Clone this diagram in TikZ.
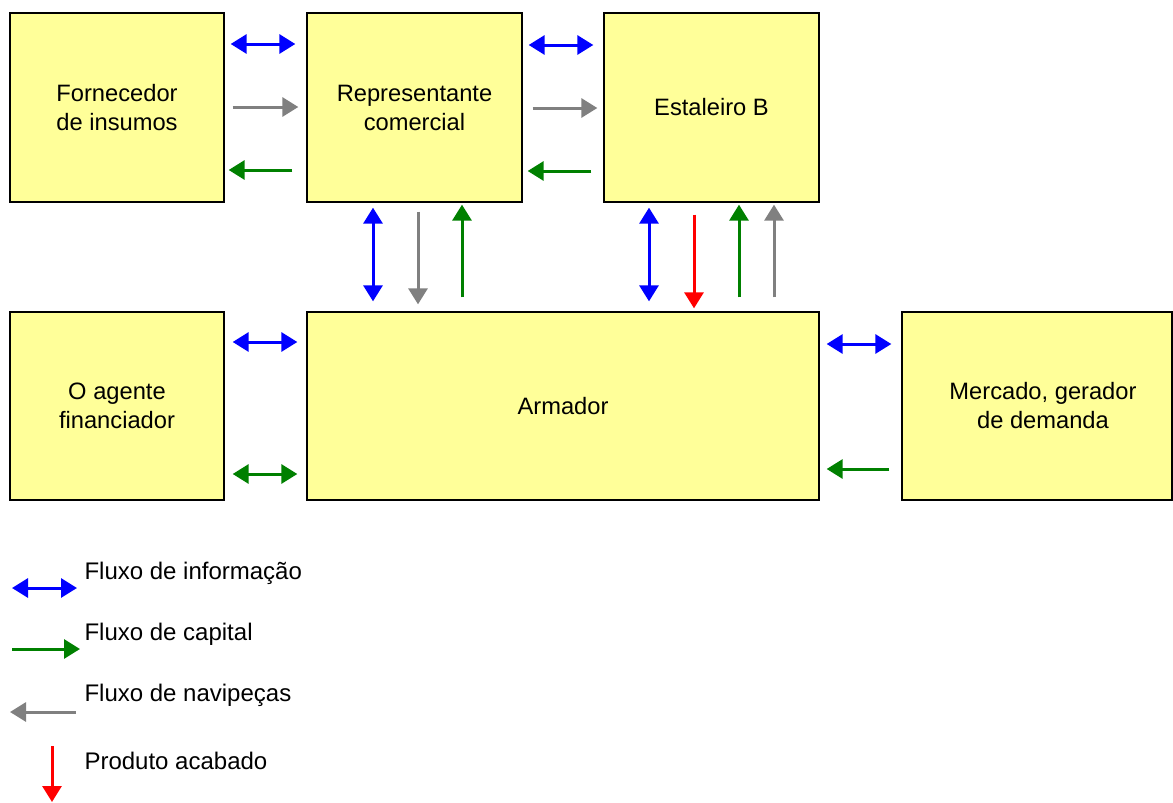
\documentclass[tikz,border=0pt]{standalone}
\usepackage{fontspec}
\setmainfont{Liberation Sans}
\usetikzlibrary{arrows.meta, positioning}
\definecolor{boxyellow}{RGB}{255,255,153}
\definecolor{capgreen}{RGB}{0,128,0}
\definecolor{navgray}{RGB}{128,128,128}

\begin{document}
\begin{tikzpicture}[
        x=1pt, y=-1pt,
        actor/.style={draw, line width=1.3pt, fill=boxyellow, align=center,
            font=\fontsize{23.7}{29}\selectfont, inner sep=0pt},
        flow/.style={line width=3pt, -{Triangle[length=16pt,width=19pt]}},
        info/.style={flow, blue, {Triangle[length=16pt,width=19pt]}-{Triangle[length=16pt,width=19pt]}},
        capital/.style={flow, capgreen},
        capboth/.style={info, capgreen},
        pieces/.style={flow, navgray},
        product/.style={flow, red},
        legtext/.style={anchor=west, font=\fontsize{24}{29}\selectfont}
    ]
        \useasboundingbox (0,0) rectangle (1173,803);

        % Boxes, top row
        \node[actor, minimum width=214pt, minimum height=189pt] (forn) at (117,107.5) {Fornecedor\\de insumos};
        \node[actor, minimum width=215pt, minimum height=189pt] (rep) at (414.5,107.5) {Representante\\comercial};
        \node[actor, minimum width=215pt, minimum height=189pt] (est) at (711.5,107.5) {Estaleiro B};

        % Boxes, bottom row
        \node[actor, minimum width=214pt, minimum height=188pt] (fin) at (117,406) {O agente\\financiador};
        \node[actor, minimum width=512pt, minimum height=188pt] (arm) at (563,406) {Armador};
        \node[actor, minimum width=270pt, minimum height=188pt] (merc) at (1037,406) {\hspace*{12pt}Mercado, gerador\\\hspace*{12pt}de demanda};

        % Fornecedor <-> Representante
        \draw[info, shorten <=6pt, shorten >=11pt] (forn.east |- 0,44) -- (rep.west |- 0,44);
        \draw[pieces, shorten <=8pt, shorten >=8pt] (forn.east |- 0,107) -- (rep.west |- 0,107);
        \draw[capital, shorten <=14pt, shorten >=4pt] (rep.west |- 0,170) -- (forn.east |- 0,170);

        % Representante <-> Estaleiro
        \draw[info, shorten <=6pt, shorten >=10pt] (rep.east |- 0,45) -- (est.west |- 0,45);
        \draw[pieces, shorten <=10pt, shorten >=6pt] (rep.east |- 0,108) -- (est.west |- 0,108);
        \draw[capital, shorten <=12pt, shorten >=5pt] (est.west |- 0,171) -- (rep.east |- 0,171);

        % Representante <-> Armador
        \draw[info, shorten <=5pt, shorten >=10pt] (rep.south -| 373,0) -- (arm.north -| 373,0);
        \draw[pieces, shorten <=9pt, shorten >=7pt] (rep.south -| 418,0) -- (arm.north -| 418,0);
        \draw[capital, shorten <=14pt, shorten >=2pt] (arm.north -| 462,0) -- (rep.south -| 462,0);

        % Estaleiro <-> Armador
        \draw[info, shorten <=5pt, shorten >=10pt] (est.south -| 649,0) -- (arm.north -| 649,0);
        \draw[product, shorten <=12pt, shorten >=3pt] (est.south -| 694,0) -- (arm.north -| 694,0);
        \draw[capital, shorten <=14pt, shorten >=2pt] (arm.north -| 739,0) -- (est.south -| 739,0);
        \draw[pieces, shorten <=14pt, shorten >=2pt] (arm.north -| 774,0) -- (est.south -| 774,0);

        % Agente financiador <-> Armador
        \draw[info, shorten <=8pt, shorten >=9pt] (fin.east |- 0,342) -- (arm.west |- 0,342);
        \draw[capboth, shorten <=8pt, shorten >=9pt] (fin.east |- 0,474) -- (arm.west |- 0,474);

        % Armador <-> Mercado
        \draw[info, shorten <=7pt, shorten >=10pt] (arm.east |- 0,344) -- (merc.west |- 0,344);
        \draw[capital, shorten <=12pt, shorten >=7pt] (merc.west |- 0,469) -- (arm.east |- 0,469);

        % Legend
        \node[legtext] (lginfo) at (81,573) {Fluxo de informação};
        \node[legtext] (lgcap) at (81,634) {Fluxo de capital};
        \node[legtext] (lgnav) at (81,695) {Fluxo de navipeças};
        \node[legtext] (lgprod) at (81,761) {Produto acabado};
        \coordinate (li1) at (12,588);
        \coordinate (li2) at (77,588);
        \coordinate (lc1) at (12,649);
        \coordinate (lc2) at (80,649);
        \coordinate (ln1) at (76,712);
        \coordinate (ln2) at (10,712);
        \coordinate (lp1) at (52,746);
        \coordinate (lp2) at (52,802);
        \draw[info] (li1) -- (li2);
        \draw[capital] (lc1) -- (lc2);
        \draw[pieces] (ln1) -- (ln2);
        \draw[product] (lp1) -- (lp2);
    \end{tikzpicture}
\end{document}
